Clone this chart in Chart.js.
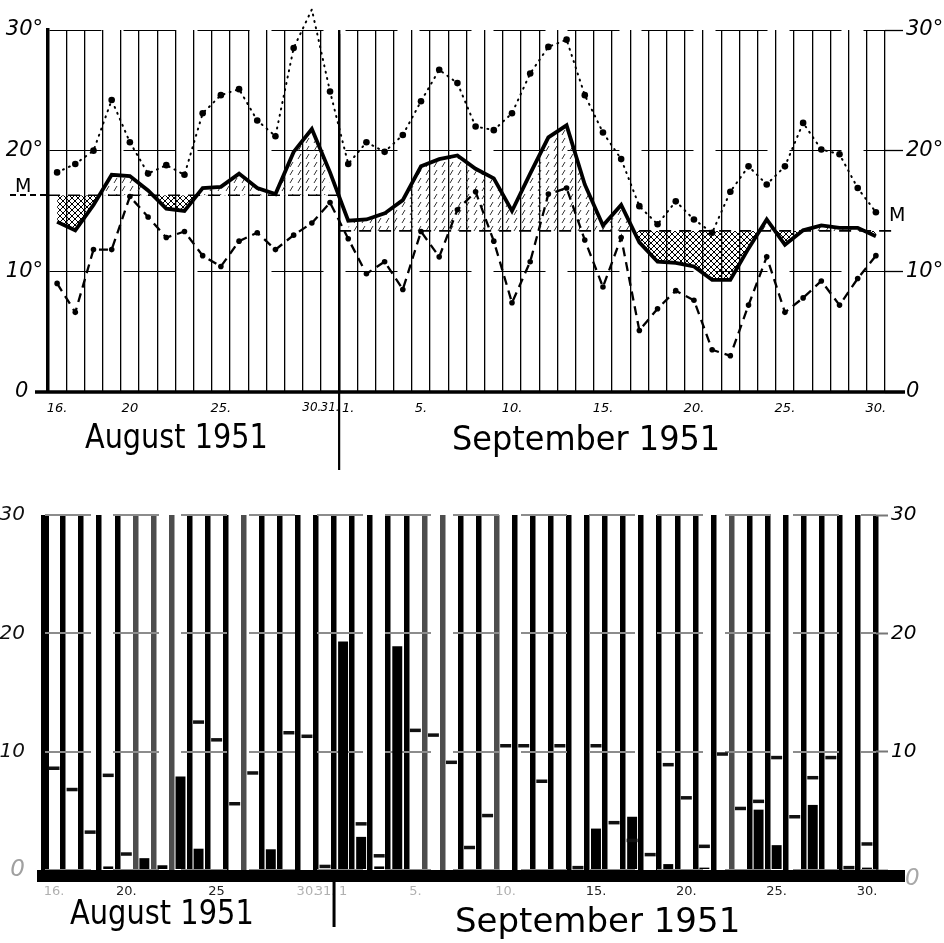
<!DOCTYPE html>
<html>
<head>
<meta charset="utf-8">
<script src="https://cdn.jsdelivr.net/npm/chart.js@4/dist/chart.umd.min.js"></script>
<style>
  body { margin: 0; background: #fff; }
  #page { position: relative; width: 944px; height: 943px; overflow: hidden; background: #fff; }
  canvas { position: absolute; left: 0; }
  .lbl { position: absolute; font-family: "DejaVu Sans", sans-serif; color: #000; line-height: 1; white-space: nowrap; transform-origin: left top; }
  .month { font-size: 34px; }
  .m { font-size: 19px; }
</style>
</head>
<body>
<div id="page">
  <canvas id="top" width="944" height="480" style="top:0"></canvas>
  <canvas id="bot" width="944" height="463" style="top:480px"></canvas>
  <div class="lbl month" style="left:85px;top:419px;transform:scaleX(0.845)">August 1951</div>
  <div class="lbl month" style="left:452px;top:421px;transform:scaleX(0.94)">September 1951</div>
  <div class="lbl month" style="left:70px;top:895px;transform:scaleX(0.85)">August 1951</div>
  <div class="lbl month" style="left:455px;top:903px;transform:scaleX(1.0)">September 1951</div>
  <div class="lbl m" style="left:15px;top:176px;">M</div>
  <div class="lbl" style="left:10px;top:194px;width:36px;border-top:2px dashed #000"></div>
  <div class="lbl m" style="left:889px;top:205px;">M</div>
  <div class="lbl" style="left:905px;top:866px;font-size:23px;color:#a8a8a8;font-style:italic">0</div>
</div>
<script>
// Aug 16 - Sep 30, 1951
var days = [16, 17, 18, 19, 20, 21, 22, 23, 24, 25, 26, 27, 28, 29, 30, 31,
  1, 2, 3, 4, 5, 6, 7, 8, 9, 10, 11, 12, 13, 14, 15, 16, 17, 18, 19, 20,
  21, 22, 23, 24, 25, 26, 27, 28, 29, 30];

var topTicks = ['16.', '', '', '', '20', '', '', '', '', '25.', '', '', '', '', '30.', '31.',
  '1.', '', '', '', '5.', '', '', '', '', '10.', '', '', '', '', '15.', '', '', '', '', '20.',
  '', '', '', '', '25.', '', '', '', '', '30.'];
var botTicks = ['16.', '', '', '', '20.', '', '', '', '', '25', '', '', '', '', '30.', '31.',
  '1', '', '', '', '5.', '', '', '', '', '10.', '', '', '', '', '15.', '', '', '', '', '20.',
  '', '', '', '', '25.', '', '', '', '', '30.'];
var faintTicks = [0, 14, 15, 16, 20, 25];

// temperatures (deg C)
var meanTemp = [14.1, 13.4, 15.5, 18.0, 17.9, 16.7, 15.2, 15.0, 16.9, 17.0, 18.1, 16.9, 16.4, 19.9, 21.8, 18.2,
  14.2, 14.3, 14.8, 15.9, 18.7, 19.3, 19.6, 18.5, 17.7, 15.0, 18.1, 21.1, 22.1, 17.2, 13.8, 15.5,
  12.4, 10.8, 10.7, 10.4, 9.3, 9.3, 11.9, 14.3, 12.2, 13.4, 13.8, 13.6, 13.6, 12.9];
var maxTemp = [18.2, 18.9, 20.0, 24.2, 20.7, 18.1, 18.8, 18.0, 23.1, 24.6, 25.1, 22.5, 21.2, 28.5, 31.7, 24.9,
  18.9, 20.7, 19.9, 21.3, 24.1, 26.7, 25.6, 22.0, 21.7, 23.1, 26.4, 28.6, 29.2, 24.6, 21.5, 19.3,
  15.4, 13.9, 15.8, 14.3, 13.2, 16.6, 18.7, 17.2, 18.7, 22.3, 20.1, 19.7, 16.9, 14.9];
var minTemp = [9.0, 6.6, 11.8, 11.8, 16.2, 14.5, 12.8, 13.3, 11.3, 10.4, 12.5, 13.2, 11.8, 13.0, 14.0, 15.7,
  12.7, 9.8, 10.8, 8.5, 13.3, 11.2, 15.1, 16.6, 12.5, 7.4, 10.8, 16.4, 16.9, 12.6, 8.7, 12.8,
  5.1, 6.9, 8.4, 7.6, 3.5, 3.0, 7.2, 11.2, 6.6, 7.8, 9.2, 7.2, 9.4, 11.3];
var meanAug = 16.3;
var meanSep = 13.35;

// lower panel: short dashes and black columns
var sunHours = [8.6, 6.8, 3.2, 8.0, 1.35, null, null, null, 12.5, 11.0, 5.6, 8.2, null, 11.6, 11.3, 0.3,
  null, 3.9, 1.2, null, 11.8, 11.4, 9.1, 1.9, 4.6, 10.5, 10.5, 7.5, 10.5, 0.2, 10.5, 4.0,
  2.5, 1.3, 8.9, 6.1, 2.0, 9.8, 5.2, 5.8, 9.5, 4.5, 7.8, 9.5, 0.2, 2.2];
var rain = [0, 0, 0, 0.3, 0, 1.0, 0.4, 7.9, 1.8, 0, 0, 0, 1.75, 0, 0, 0,
  19.3, 2.8, 0.3, 18.9, 0, 0, 0, 0, 0, 0, 0, 0, 0, 0, 3.5, 0,
  4.5, 0, 0.5, 0, 0.2, 0, 0, 5.1, 2.1, 0, 5.5, 0, 0, 0.2];
var greyDividers = [5, 6, 7, 11, 21, 22, 25, 38];

Chart.defaults.font.family = 'DejaVu Sans';
Chart.defaults.color = '#000';

function makePattern(cross) {
  var c = document.createElement('canvas');
  var s = cross ? 6 : 8;
  c.width = s; c.height = s;
  var g = c.getContext('2d');
  g.strokeStyle = cross ? '#000' : '#333';
  g.lineWidth = 1;
  g.beginPath();
  if (cross) {
    g.moveTo(0, s); g.lineTo(s, 0);
    g.moveTo(-1, 1); g.lineTo(1, -1);
    g.moveTo(s - 1, s + 1); g.lineTo(s + 1, s - 1);
    g.moveTo(0, 0); g.lineTo(s, s);
    g.moveTo(-1, s - 1); g.lineTo(1, s + 1);
    g.moveTo(s - 1, -1); g.lineTo(s + 1, 1);
  } else {
    // short broken slashes
    g.moveTo(2, 7); g.lineTo(5, 2);
  }
  g.stroke();
  return g.createPattern(c, 'repeat');
}
var warm = makePattern(false);
var cold = makePattern(true);

var tickFont = { size: 21, style: 'italic' };
function degLabel(v) { return v === 0 ? '0' : v + '°'; }
function boundary(x, i) { return (x.getPixelForValue(i - 1) + x.getPixelForValue(i)) / 2; }

var topDecor = {
  id: 'topDecor',
  afterDraw: function (chart) {
    var ctx = chart.ctx, a = chart.chartArea, x = chart.scales.x, y = chart.scales.y;
    var y0 = y.getPixelForValue(0);
    ctx.save();
    ctx.strokeStyle = '#000';
    ctx.lineWidth = 3.5;
    ctx.beginPath(); ctx.moveTo(a.left - 13, y0); ctx.lineTo(a.right + 20, y0); ctx.stroke();
    ctx.lineWidth = 2.2;
    var xs = boundary(x, 16);
    ctx.beginPath(); ctx.moveTo(xs, a.top + 4); ctx.lineTo(xs, y0 + 78); ctx.stroke();
    ctx.restore();
  }
};

new Chart(document.getElementById('top'), {
  type: 'line',
  data: {
    labels: days,
    datasets: [
      { data: meanTemp, borderColor: '#000', borderWidth: 3.8, pointRadius: 0, fill: false },
      { data: maxTemp, borderColor: '#000', borderWidth: 2, borderDash: [1, 5.5], borderCapStyle: 'round',
        pointRadius: 3.3, pointBackgroundColor: '#000', pointBorderWidth: 0, clip: false, fill: false },
      { data: minTemp, borderColor: '#000', borderWidth: 2.3, borderDash: [9, 6],
        pointRadius: 2.8, pointBackgroundColor: '#000', pointBorderWidth: 0, fill: false },
      { xAxisID: 'x2', data: [{ x: 0, y: meanAug }, { x: 16, y: meanAug }], borderColor: '#000',
        borderWidth: 1.6, borderDash: [12, 8], pointRadius: 0, fill: false },
      { xAxisID: 'x2', data: [{ x: 16, y: meanSep }, { x: 46.6, y: meanSep }], borderColor: '#000',
        borderWidth: 1.6, borderDash: [12, 8], pointRadius: 0, fill: false, clip: false },
      { data: meanTemp.map(function (v, i) { return i < 16 ? v : null; }), borderColor: 'rgba(0,0,0,0)',
        borderWidth: 1, pointRadius: 0, fill: { target: { value: meanAug }, above: warm, below: cold } },
      { data: meanTemp.map(function (v, i) { return i >= 16 ? v : null; }), borderColor: 'rgba(0,0,0,0)',
        borderWidth: 1, pointRadius: 0, fill: { target: { value: meanSep }, above: warm, below: cold } }
    ]
  },
  options: {
    responsive: false,
    animation: false,
    layout: { padding: { top: 30 } },
    plugins: { legend: { display: false }, tooltip: { enabled: false } },
    scales: {
      x: {
        offset: true,
        grid: { offset: true, color: '#000', lineWidth: function (c) { return c.index === 16 ? 2.4 : 1.3; }, drawTicks: false },
        border: { display: false },
        ticks: { autoSkip: false, maxRotation: 0, padding: 9,
          font: function (c) { return { size: (c.index === 14 || c.index === 15) ? 12 : 13, style: 'italic' }; },
          callback: function (v, i) { return topTicks[i]; } },
        afterFit: function (s) { s.height = 88; }
      },
      x2: { type: 'linear', display: false, min: 0, max: 46 },
      y: {
        min: 0, max: 30,
        grid: { color: '#000', lineWidth: 1, drawTicks: false },
        border: { display: true, color: '#000', width: 3.5, dash: [52, 22] },
        ticks: { stepSize: 10, padding: 5, font: tickFont,
          callback: function (v) { return v === 0 ? '0\u2002\u2009' : v + '°'; } },
        afterFit: function (s) { s.width = 48; }
      },
      yR: {
        position: 'right', min: 0, max: 30,
        grid: { drawOnChartArea: false, tickLength: 18, tickColor: '#000', tickWidth: 1.3 },
        border: { display: false },
        ticks: { stepSize: 10, padding: 3, font: tickFont, callback: degLabel },
        afterFit: function (s) { s.width = 59; }
      }
    }
  },
  plugins: [topDecor]
});

var botDecor = {
  id: 'botDecor',
  afterDraw: function (chart) {
    var ctx = chart.ctx, a = chart.chartArea, x = chart.scales.x, y = chart.scales.y;
    var y0 = y.getPixelForValue(0);
    ctx.save();
    ctx.fillStyle = '#000';
    ctx.fillRect(a.left - 8, y0, a.right - a.left + 37, 12);
    var xs = boundary(x, 16);
    ctx.fillRect(xs - 1.5, y0, 3, 57);
    ctx.restore();
  }
};

new Chart(document.getElementById('bot'), {
  data: {
    labels: days,
    datasets: [
      { type: 'line', data: sunHours, showLine: false, pointStyle: 'line', pointRadius: 5.5,
        pointBorderWidth: 3.5, pointBorderColor: '#111', borderColor: '#111' },
      { type: 'bar', data: rain, backgroundColor: '#000', barPercentage: 0.55, categoryPercentage: 1 }
    ]
  },
  options: {
    responsive: false,
    animation: false,
    layout: { padding: { top: 35 } },
    plugins: { legend: { display: false }, tooltip: { enabled: false } },
    scales: {
      x: {
        offset: true,
        grid: { offset: true, drawTicks: false,
          color: function (c) { return greyDividers.indexOf(c.index) >= 0 ? '#4d4d4d' : '#000'; },
          lineWidth: function (c) { return c.index === 0 ? 8 : 5.5; } },
        border: { display: false },
        ticks: { autoSkip: false, maxRotation: 0, padding: 14, font: { size: 13 },
          color: function (c) { return faintTicks.indexOf(c.index) >= 0 ? '#b0b0b0' : '#222'; },
          callback: function (v, i) { return botTicks[i]; } },
        afterFit: function (s) { s.height = 73; }
      },
      y: {
        min: 0, max: 30,
        grid: { color: '#8c8c8c', lineWidth: 2, drawTicks: false },
        border: { display: false, dash: [46, 22] },
        ticks: { stepSize: 10, padding: 20,
          color: function (c) { return c.tick.value === 0 ? '#a0a0a0' : '#111'; },
          font: function (c) { return { size: c.tick && c.tick.value === 0 ? 23 : 20, style: 'italic' }; } },
        afterFit: function (s) { s.width = 45; }
      },
      yR: {
        position: 'right', min: 0, max: 30,
        grid: { drawOnChartArea: false, tickLength: 12, tickColor: '#777', tickWidth: 2 },
        border: { display: false },
        ticks: { stepSize: 10, padding: 3, font: { size: 20, style: 'italic' },
          callback: function (v) { return v === 0 ? '' : String(v); } },
        afterFit: function (s) { s.width = 68; }
      }
    }
  },
  plugins: [botDecor]
});
</script>
</body>
</html>
